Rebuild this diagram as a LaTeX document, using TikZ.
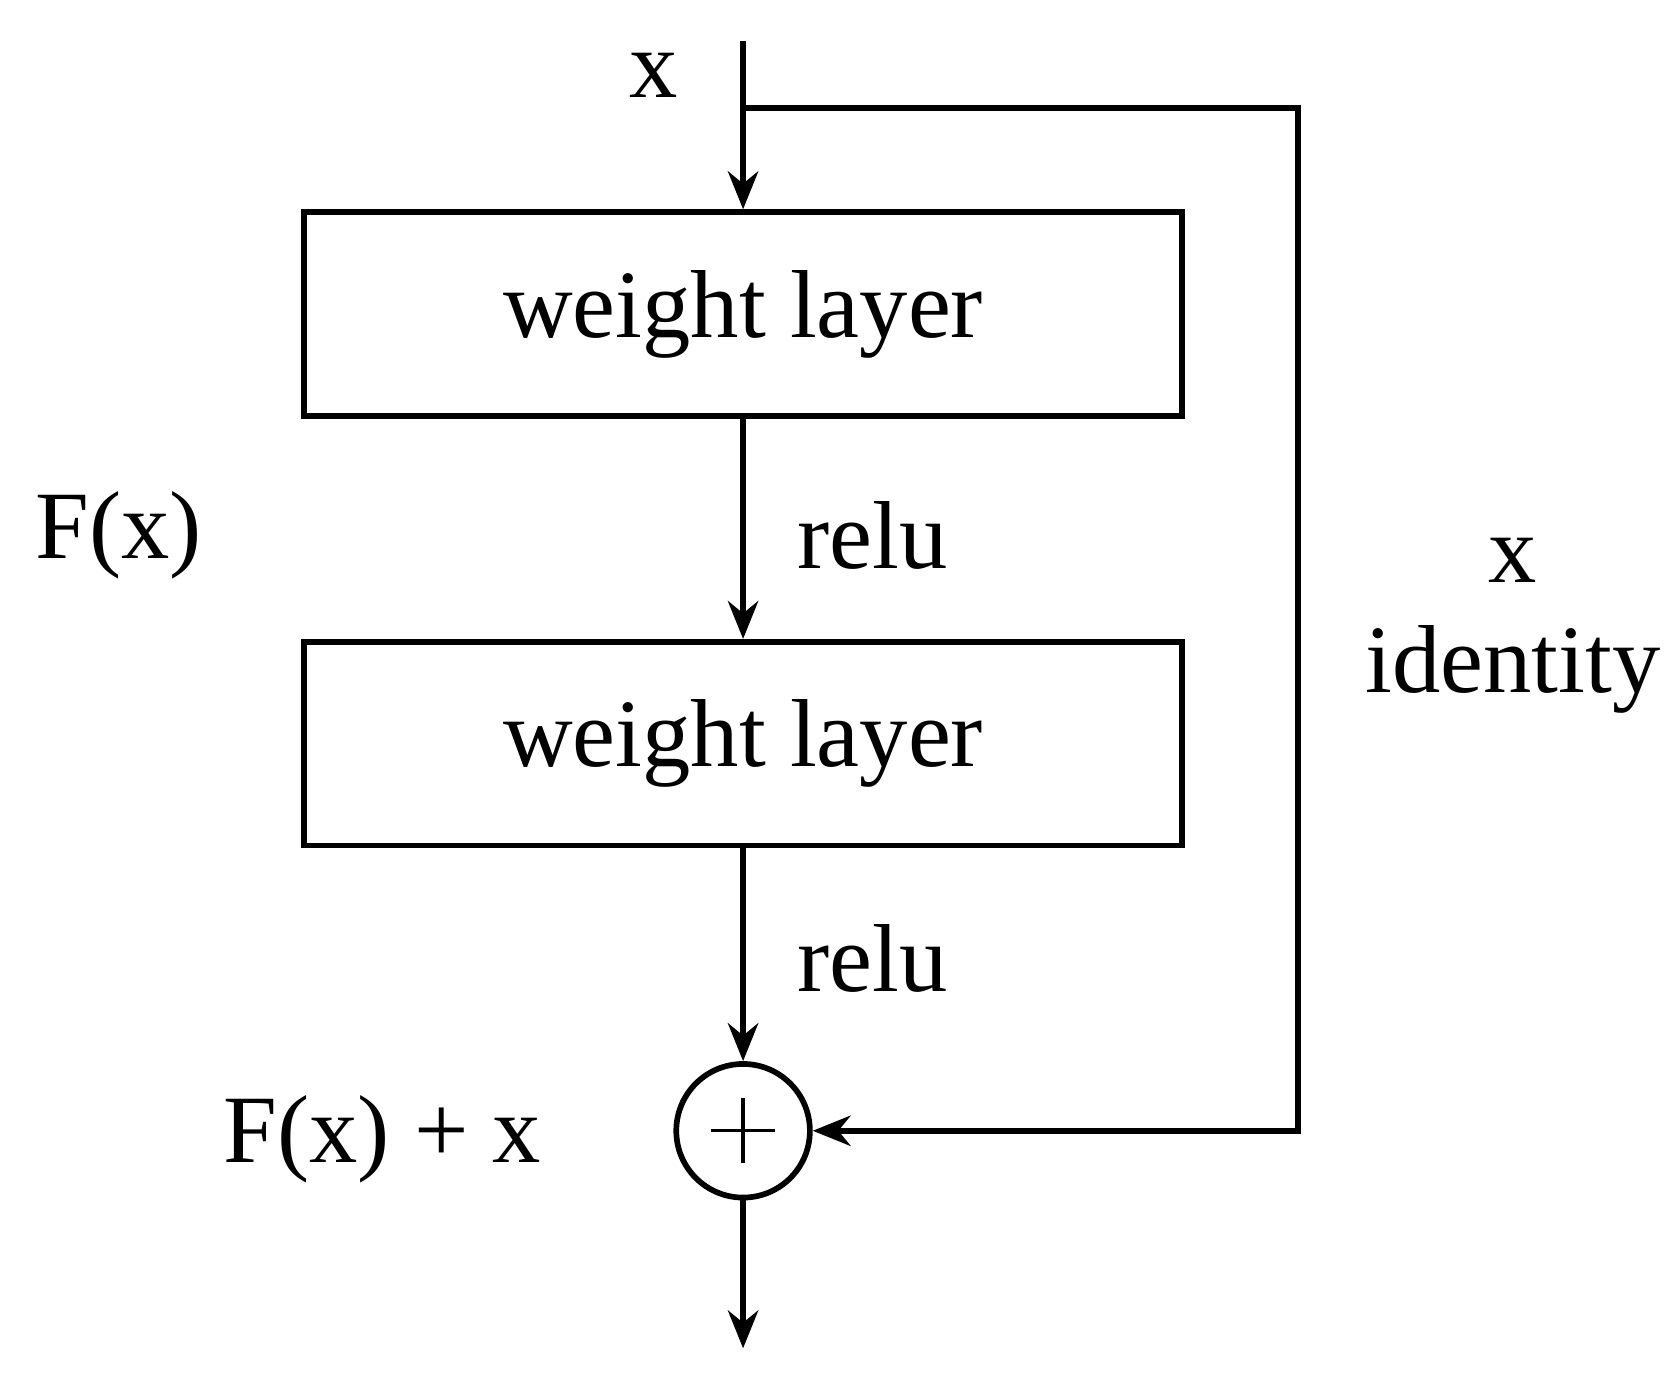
\documentclass[tikz,border=0pt]{standalone}
\usepackage{fontspec}
\setmainfont{Liberation Serif}
\usetikzlibrary{arrows.meta}
\begin{document}
\begin{tikzpicture}[x=0.01cm,y=-0.01cm,line width=1.5pt,
  box/.style={draw,minimum width=8.15cm,minimum height=1.89cm,inner sep=0},
  lbl/.style={font=\fontsize{25.5}{30}\selectfont,inner sep=0},
  arr/.style={-{Stealth[length=10pt,width=8pt]}}]
\useasboundingbox (0,0) rectangle (1560,1276);
\node[box,lbl] (b1) at (690,291.5) {weight layer};
\node[box,lbl] (b2) at (690,690.5) {weight layer};
\node[draw,circle,minimum size=1.24cm,inner sep=0] (p) at (690,1050) {};
\draw[line width=0.9pt] (p.center)++(-30,0) -- ++(60,0) (p.center)++(0,-30) -- ++(0,60);
\coordinate (top) at (690,38);
\coordinate (br) at (690,100);
\coordinate (c1) at (1205,100);
\coordinate (c2) at (1205,1050);
\coordinate (out) at (690,1252);
\draw[arr] (top) -- (b1.north);
\draw[arr] (b1.south) -- (b2.north);
\draw[arr] (b2.south) -- (p.north);
\draw[arr] (p.south) -- (out);
\draw[arr] (br) -- (c1) -- (c2) -- (p.east);
\node[lbl] (lx) at (607,70) {x};
\node[lbl] (r1) at (810,497) {relu};
\node[lbl] (r2) at (810,890) {relu};
\node[lbl] (fx) at (110,497) {F(x)};
\node[lbl] (ix) at (1405,520) {x};
\node[lbl] (id) at (1405,622) {identity};
\node[lbl] (fxx) at (355,1058) {F(x) + x};
\end{tikzpicture}
\end{document}
